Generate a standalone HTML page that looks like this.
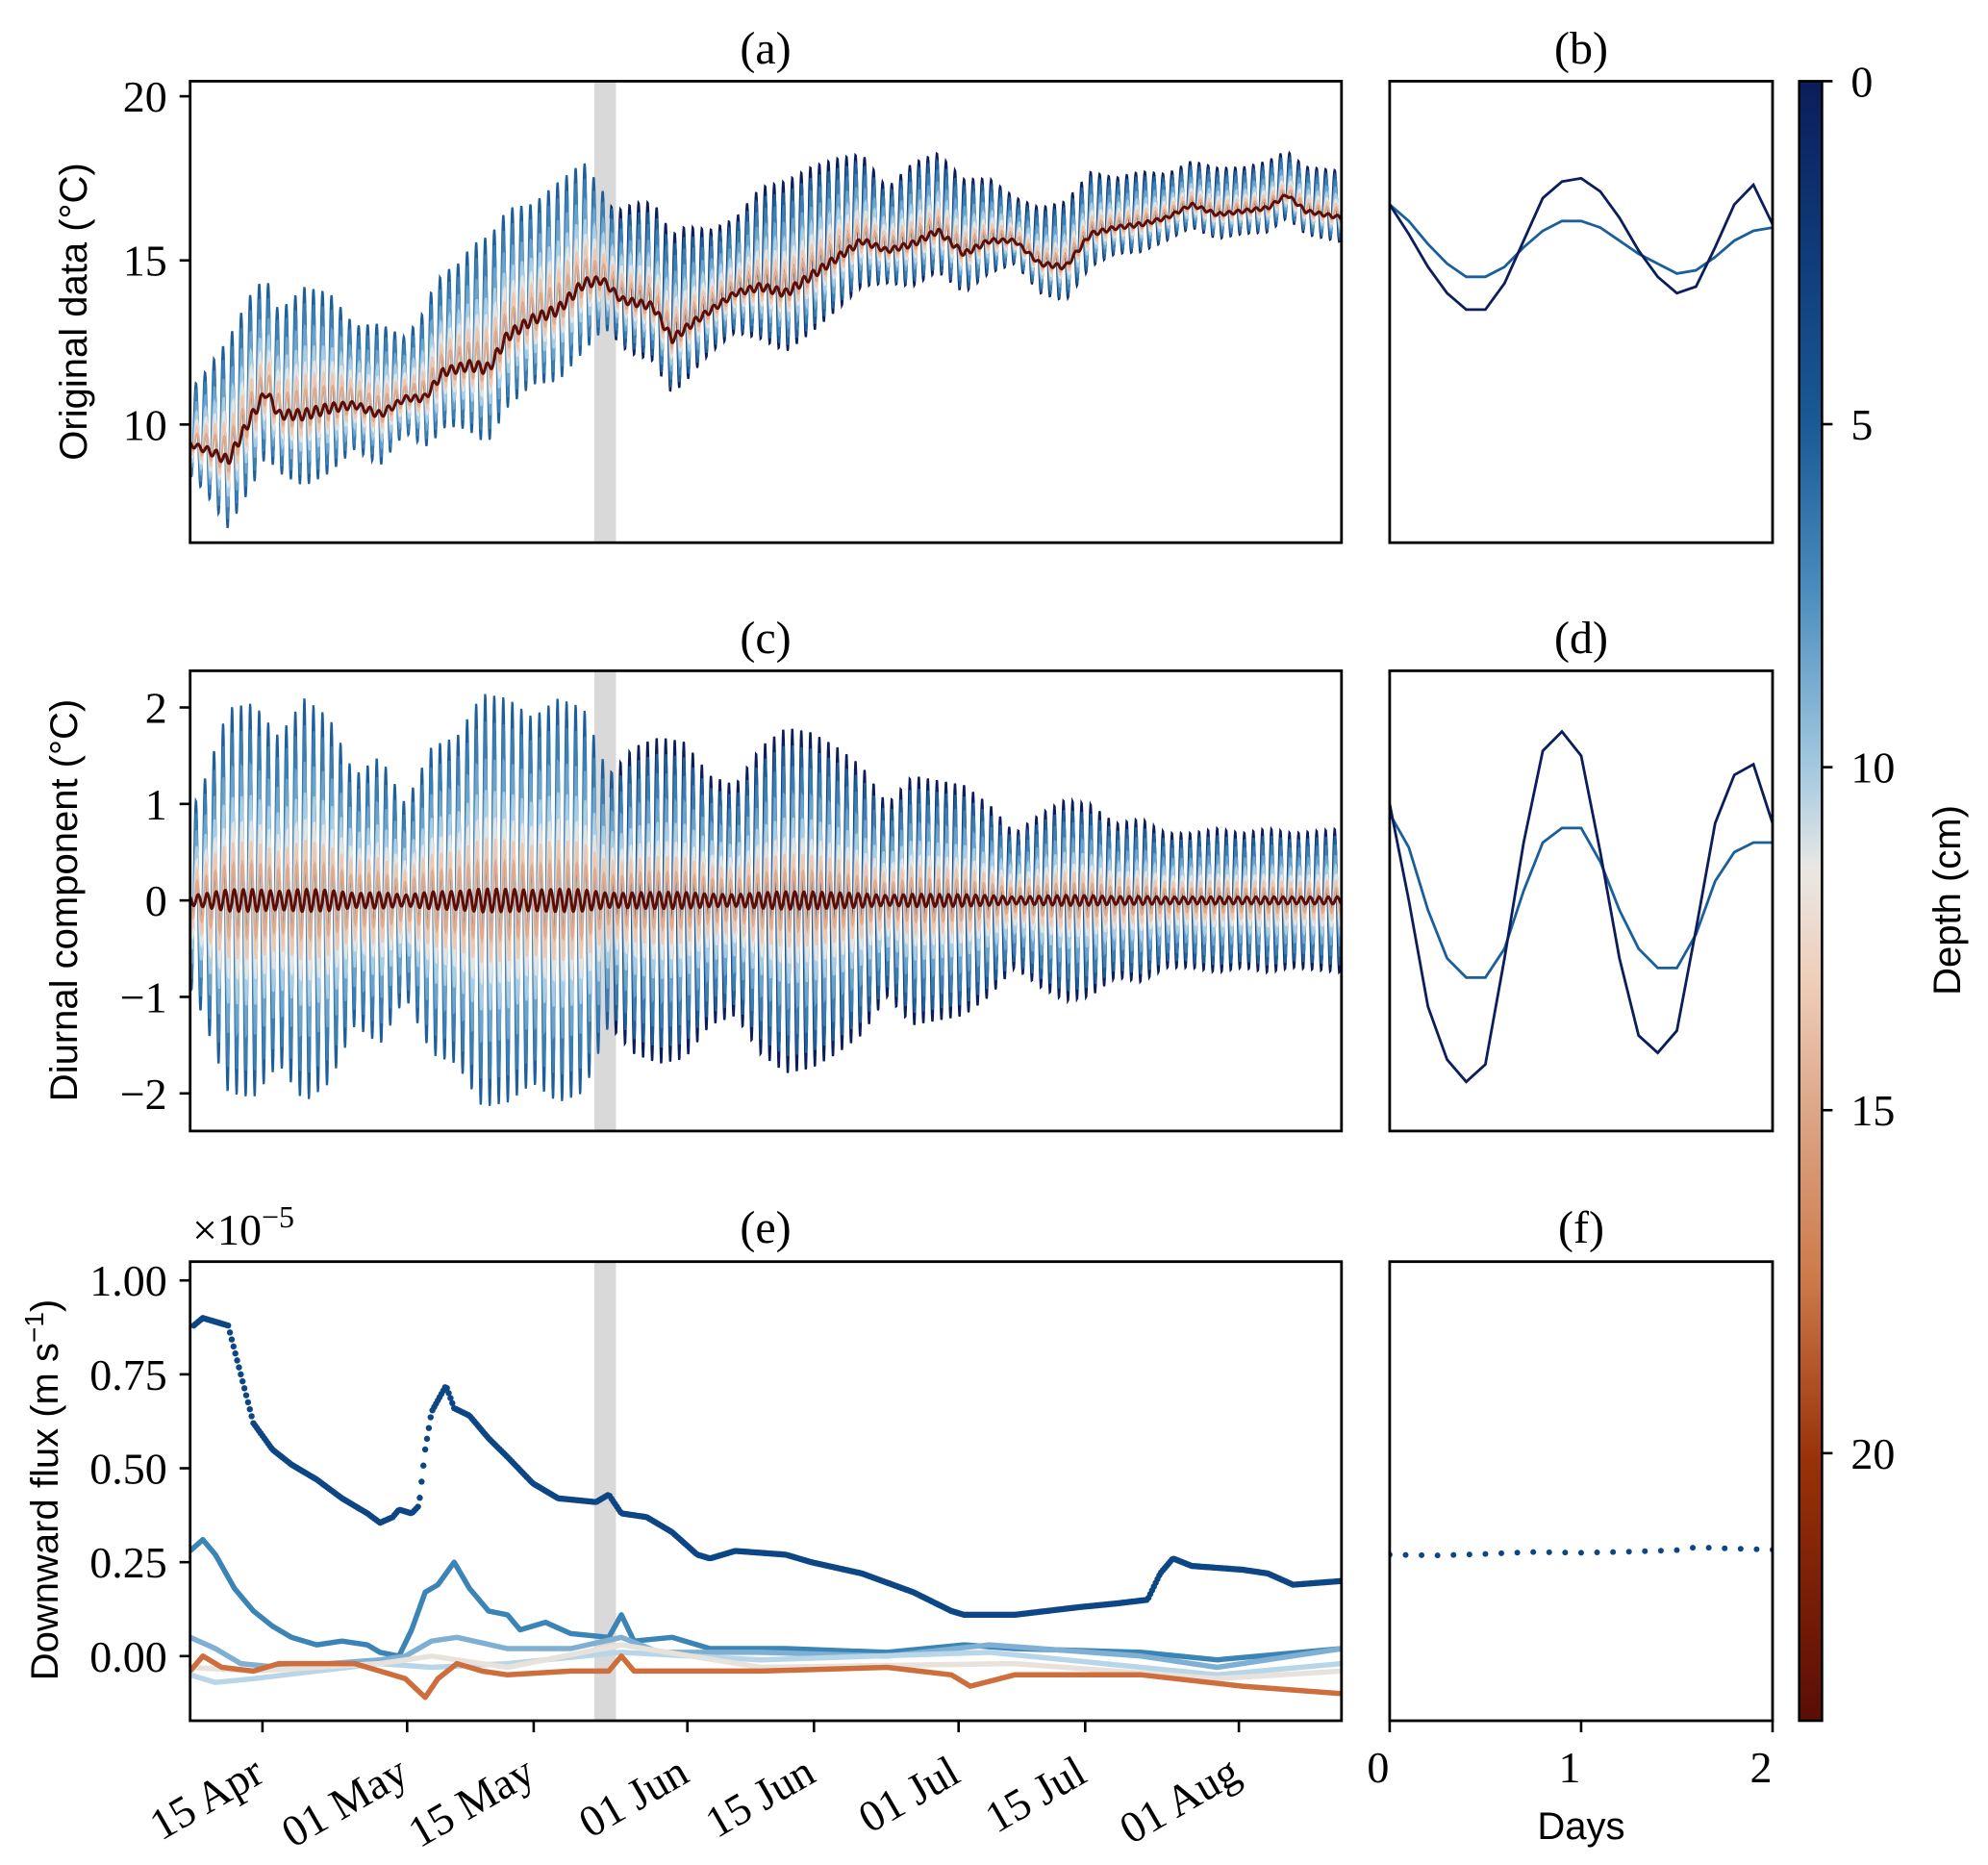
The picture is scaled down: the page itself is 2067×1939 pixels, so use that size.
<!DOCTYPE html>
<html><head><meta charset="utf-8">
<style>
html,body{margin:0;padding:0;background:#fff;}
svg{display:block;}
.tk{font-family:"Liberation Serif",serif;font-size:46px;fill:#000;}
.lb{font-family:"Liberation Sans",sans-serif;font-size:40px;fill:#000;}
.tt{font-family:"Liberation Serif",serif;font-size:48px;fill:#000;}
</style></head>
<body>
<svg id="fig" width="2067" height="1939" viewBox="0 0 2067 1939" xmlns="http://www.w3.org/2000/svg">
<defs>
<linearGradient id="cbg" x1="0" y1="0" x2="0" y2="1">
<stop offset="0" stop-color="#0b1d5a"/>
<stop offset="0.10" stop-color="#0e3a78"/>
<stop offset="0.21" stop-color="#1a5a96"/>
<stop offset="0.31" stop-color="#4a8cbd"/>
<stop offset="0.42" stop-color="#a4c9e0"/>
<stop offset="0.48" stop-color="#e9e7e4"/>
<stop offset="0.55" stop-color="#efcdb8"/>
<stop offset="0.63" stop-color="#dca587"/>
<stop offset="0.73" stop-color="#cd7a4a"/>
<stop offset="0.84" stop-color="#9a3208"/>
<stop offset="1" stop-color="#5a0d05"/>
</linearGradient>
</defs>
<g id="root"></g>
</svg>
<script>
// ---- data (days relative to 15 Apr) ----
const dateTickDays=[0,16,30,47,61,77,91,108];
const dateTickLabels=["15 Apr","01 May","15 May","01 Jun","15 Jun","01 Jul","15 Jul","01 Aug"];
const shadeDays=[36.7,39.1];
// deep (24 cm) daily-mean temperature knots
const meanDays=[-8,-5.9,-3.8,-1.7,0.4,1.8,4.6,7.4,10.2,13,15.8,17.9,20,22.9,25,27.1,29.9,32.7,35.5,37.6,39.7,43.2,45.3,48.1,52.3,55.1,57.9,62.1,66.3,69.1,71.9,74.7,77.6,80.4,83.2,86,88.8,91.6,94.4,97.2,100,102.8,105.6,108.4,111.2,113.3,115.4,119.4];
const meanTemp=[9.4,9.2,8.9,10,11,10.3,10.3,10.5,10.6,10.3,10.8,10.8,11.6,11.8,11.7,12.7,13.2,13.5,14.3,14.4,13.8,13.6,12.6,13.2,14.0,14.2,14.0,14.8,15.6,15.3,15.5,15.9,15.2,15.6,15.6,14.9,14.8,15.8,16.0,16.1,16.3,16.7,16.4,16.5,16.6,17.0,16.5,16.3];
// surface diurnal amplitude knots
const ampDays=[-8,-6.6,-3.8,-1,1.8,4.6,7.4,10.2,13,15.8,18.7,21.5,24.3,27.1,29.9,32.7,35.5,38.3,41.1,43.9,46.7,49.5,52.3,55.1,57.9,60.7,63.5,66.3,69.1,71.9,74.7,77.6,80.4,83.2,86,88.8,91.6,94.4,97.2,100,102.8,105.6,108.4,111.2,114,119.4];
const ampVals=[0.9,1.2,2.0,2.05,1.7,2.1,1.9,1.3,1.5,1.0,1.6,1.7,2.15,2.1,1.9,2.1,2.0,1.3,1.6,1.7,1.65,1.3,1.2,1.6,1.8,1.75,1.6,1.4,1.0,1.3,1.25,1.2,1.0,0.7,0.9,1.05,1.0,0.8,0.85,0.7,0.7,0.75,0.7,0.75,0.7,0.75];
// depth series
const depths=[0,3,5,7,9,11,13,15,24];
const depthColors=["#0b1d5a","#1d5f9c","#3a7fb4","#6aa3cb","#a9cde3","#e3e4e4","#efc8b2","#e0aa8c","#5c0e06"];
const ampFactors=[1.0,0.9,0.78,0.62,0.48,0.36,0.27,0.17,0.05];
const meanOffsets=[1.0,0.9,0.8,0.65,0.5,0.4,0.3,0.2,0];
// panel (b) and (d): two-day composites
const compDays=[0,0.1,0.2,0.3,0.4,0.5,0.6,0.7,0.8,0.9,1.0,1.1,1.2,1.3,1.4,1.5,1.6,1.7,1.8,1.9,2.0];
const bNavy=[16.7,15.8,14.8,14.0,13.5,13.5,14.3,15.6,16.9,17.4,17.5,17.1,16.3,15.3,14.5,14.0,14.2,15.4,16.7,17.3,16.1];
const bBlue=[16.7,16.2,15.5,14.9,14.5,14.5,14.8,15.4,15.9,16.2,16.2,16.0,15.6,15.2,14.9,14.6,14.7,15.1,15.6,15.9,16.0];
const dNavy=[1.0,0.0,-1.1,-1.65,-1.88,-1.7,-0.6,0.6,1.55,1.75,1.5,0.5,-0.6,-1.4,-1.58,-1.35,-0.3,0.8,1.3,1.41,0.8];
const dBlue=[0.9,0.55,-0.1,-0.6,-0.8,-0.8,-0.5,0.1,0.6,0.75,0.75,0.4,-0.1,-0.5,-0.7,-0.7,-0.35,0.2,0.5,0.6,0.6];
// panel (f)
const fDays=[0,0.25,0.5,0.75,1.0,1.25,1.5,1.6,1.75,2.0];
const fVals=[0.27,0.268,0.272,0.277,0.275,0.278,0.282,0.29,0.287,0.283];
// panel (e) flux series (x1e-5 m/s)
const fluxNavyDays=[-7.6,-6.6,-3.8,-2.4,-1,1.1,3.2,6,8.8,11.6,13,14.4,15.1,16.5,17.3,18,18.7,20.3,21.2,22.9,25,27.1,29.9,32.7,36.9,38.3,39.7,42.5,45.3,48.1,49.5,52.3,57.9,60.7,66.3,72,76.2,77.6,83.2,90.2,94.4,97.9,99.3,100.7,102.8,108.4,111.2,114,119.4];
const fluxNavy=[0.88,0.9,0.88,0.75,0.62,0.55,0.51,0.47,0.42,0.38,0.355,0.37,0.39,0.38,0.40,0.55,0.65,0.72,0.66,0.64,0.58,0.53,0.46,0.42,0.41,0.43,0.38,0.37,0.33,0.27,0.26,0.28,0.27,0.25,0.22,0.17,0.12,0.11,0.11,0.13,0.14,0.15,0.22,0.26,0.24,0.23,0.22,0.19,0.20];
const flux2Days=[-8,-6.6,-5.2,-3.1,-1,1.1,3.2,6,8.8,11.6,13,15.1,16.5,18,19.4,21.2,22.9,25,27.1,28.5,31.3,34.1,38.3,39.7,41.1,45.3,49.5,57.9,69.1,77.6,83.2,97.2,105.6,119.4];
const flux2=[0.28,0.31,0.27,0.18,0.12,0.08,0.05,0.03,0.04,0.03,0.01,0.0,0.07,0.17,0.19,0.25,0.18,0.12,0.11,0.07,0.09,0.06,0.05,0.11,0.04,0.05,0.02,0.02,0.01,0.03,0.02,0.01,-0.01,0.02];
const flux3Days=[-8,-5.2,-2.4,1.8,13,15.8,18.7,21.5,27.1,34.1,39.7,43.9,55.1,69.1,80.4,97.2,105.6,119.4];
const flux3=[0.05,0.02,-0.02,-0.03,-0.01,0.0,0.04,0.05,0.02,0.02,0.05,0.01,0.01,0.0,0.03,0.0,-0.03,0.02];
const flux4Days=[-8,-5.2,-1,13,18.7,27.1,39.7,55.1,80.4,105.6,119.4];
const flux4=[-0.05,-0.07,-0.06,-0.02,-0.03,-0.02,0.01,-0.01,0.01,-0.05,-0.02];
const flux5Days=[-8,-1,13,18.7,27.1,39.7,55.1,83.2,105.6,119.4];
const flux5=[-0.03,-0.04,-0.02,0.0,-0.03,0.03,-0.03,-0.02,-0.06,-0.04];
const flux6Days=[-8,-6.6,-4.5,-1,1.8,10.2,13,15.8,18,19.4,21.5,24.3,27.1,34.1,38.3,39.7,41.1,55.1,69.1,76.2,78.3,83.2,97.2,108.4,119.4];
const flux6=[-0.04,0.0,-0.03,-0.04,-0.02,-0.02,-0.04,-0.06,-0.11,-0.06,-0.02,-0.04,-0.05,-0.04,-0.04,0.0,-0.04,-0.04,-0.03,-0.05,-0.08,-0.05,-0.05,-0.08,-0.10];

// ---- layout ----
const NS="http://www.w3.org/2000/svg";
const root=document.getElementById('root');
const L=197.7,R=1394.8,RL=1444.9,RR=1843.0;
const P={a:[84.4,564.2],c:[697.4,1175.9],e:[1311.7,1789.0]};
const DMIN=-8,DMAX=119.35;
const xDate=d=>L+(d-DMIN)/(DMAX-DMIN)*(R-L);
const xComp=d=>RL+d/2*(RR-RL);
const yA=v=>P.a[0]+(20.46-v)/(20.46-6.4)*(P.a[1]-P.a[0]);
const yC=v=>P.c[0]+(2.38-v)/(2.38+2.39)*(P.c[1]-P.c[0]);
const yE=v=>P.e[0]+(1.05-v)/(1.05+0.172)*(P.e[1]-P.e[0]);
function el(tag,attrs,parent){const e=document.createElementNS(NS,tag);for(const k in attrs)e.setAttribute(k,attrs[k]);(parent||root).appendChild(e);return e;}
function interp(xs,ys,x){if(x<=xs[0])return ys[0];for(let i=1;i<xs.length;i++){if(x<=xs[i]){const t=(x-xs[i-1])/(xs[i]-xs[i-1]);return ys[i-1]+t*(ys[i]-ys[i-1]);}}return ys[ys.length-1];}
function clip(id,x0,y0,x1,y1){const c=el('clipPath',{id:id});el('rect',{x:x0,y:y0,width:x1-x0,height:y1-y0},c);}
clip('cl',L,P.a[0],R,P.a[1]);clip('cc',L,P.c[0],R,P.c[1]);clip('ce',L,P.e[0],R,P.e[1]);
clip('cb',RL,P.a[0],RR,P.a[1]);clip('cd',RL,P.c[0],RR,P.c[1]);clip('cf',RL,P.e[0],RR,P.e[1]);

// shaded bands
['a','c','e'].forEach(k=>{
  const r=el('rect',{x:xDate(shadeDays[0]),y:P[k][0],width:xDate(shadeDays[1])-xDate(shadeDays[0]),height:P[k][1]-P[k][0],fill:'#d9d9d9'});
  
  
});

// panels (a) and (c): depth series
const gA=el('g',{'clip-path':'url(#cl)'});
const gC=el('g',{'clip-path':'url(#cc)'});
depths.forEach((z,i)=>{
  let pa='',pc='';
  const start=(i===0)?38.5:DMIN;
  for(let t=start;t<=DMAX+0.01;t+=1/24){
    const m=interp(meanDays,meanTemp,t);
    let f=ampFactors[i];
    if(t<39&&i>0)f=Math.min(1,f/0.9);
    const amp=interp(ampDays,ampVals,t);
    const a=amp*f;
    const ph=2*Math.PI*(t-0.35-z*0.012);
    const d=a*Math.sin(ph);
    const va=m+meanOffsets[i]*0.45*amp+1.45*d;
    pa+=(pa?'L':'M')+xDate(t).toFixed(1)+' '+yA(va).toFixed(1);
    pc+=(pc?'L':'M')+xDate(t).toFixed(1)+' '+yC(d).toFixed(1);
  }
  const w=i===8?3:2.2;
  const s1=el('path',{d:pa,fill:'none',stroke:depthColors[i],'stroke-width':w},gA);
  
  
  const s2=el('path',{d:pc,fill:'none',stroke:depthColors[i],'stroke-width':w},gC);
  
  
});

// panel (e)
const gE=el('g',{'clip-path':'url(#ce)'});
for(let t=fluxNavyDays[0];t<=DMAX;t+=0.2){
  const c=el('circle',{cx:xDate(t),cy:yE(interp(fluxNavyDays,fluxNavy,t)),r:3.2,fill:'#0d4685'},gE);
  
  
}
const fluxSets=[[flux2Days,flux2,'#3b84b6'],[flux3Days,flux3,'#7fb0d4'],[flux4Days,flux4,'#b9d6e8'],[flux5Days,flux5,'#e8e2dc'],[flux6Days,flux6,'#cd6e3c']];
fluxSets.forEach((s,i)=>{
  let p='';
  s[0].forEach((d,j)=>{p+=(j?'L':'M')+xDate(d).toFixed(1)+' '+yE(s[1][j]).toFixed(1);});
  const ln=el('path',{d:p,fill:'none',stroke:s[2],'stroke-width':5.5,'stroke-linejoin':'round'},gE);
  
  
});

// panels (b),(d),(f)
function compLine(ys,yf,col,clipid,name){
  let p='';compDays.forEach((d,j)=>{p+=(j?'L':'M')+xComp(d).toFixed(1)+' '+yf(ys[j]).toFixed(1);});
  const g=el('path',{d:p,fill:'none',stroke:col,'stroke-width':2.8,'clip-path':'url(#'+clipid+')'});
  
  
}
compLine(bBlue,yA,'#1a5f9c','cb','composite-b-subsurface');
compLine(bNavy,yA,'#0b1d5a','cb','composite-b-surface');
compLine(dBlue,yC,'#1a5f9c','cd','composite-d-subsurface');
compLine(dNavy,yC,'#0b1d5a','cd','composite-d-surface');
for(let k=0;k<=24;k++){
  const t=k/12;
  const c=el('circle',{cx:xComp(t),cy:yE(interp(fDays,fVals,t)),r:3,fill:'#0d4685','clip-path':'url(#cf)'});
  
  
}

// frames
[['a',L,R],['c',L,R],['e',L,R],['a',RL,RR],['c',RL,RR],['e',RL,RR]].forEach((f,i)=>{
  const r=el('rect',{x:f[1],y:P[f[0]][0],width:f[2]-f[1],height:P[f[0]][1]-P[f[0]][0],fill:'none',stroke:'#000','stroke-width':2.8});
  
  
});

// y ticks
function yTicks(vals,labels,yf,name){
  vals.forEach((v,i)=>{
    const y=yf(v);
    el('line',{x1:L-11,y1:y,x2:L,y2:y,stroke:'#000','stroke-width':2.6});
    const t=el('text',{x:L-24,y:y+16,'text-anchor':'end',class:'tk'});t.textContent=labels[i];
    
    
  });
}
yTicks([10,15,20],["10","15","20"],yA,'a-y');
yTicks([-2,-1,0,1,2],["\u22122","\u22121","0","1","2"],yC,'c-y');
yTicks([0,0.25,0.5,0.75,1.0],["0.00","0.25","0.50","0.75","1.00"],yE,'e-y');

// x ticks (dates)
dateTickDays.forEach((d,i)=>{
  const x=xDate(d);
  el('line',{x1:x,y1:P.e[1],x2:x,y2:P.e[1]+12,stroke:'#000','stroke-width':2.6});
  const t=el('text',{x:0,y:0,'text-anchor':'end',class:'tk',transform:'translate('+(x+4)+','+(P.e[1]+62)+') rotate(-30)'});
  t.textContent=dateTickLabels[i];
  
  
});
[0,1,2].forEach(d=>{
  const x=xComp(d);
  el('line',{x1:x,y1:P.e[1],x2:x,y2:P.e[1]+12,stroke:'#000','stroke-width':2.6});
  const t=el('text',{x:x-12,y:P.e[1]+64,'text-anchor':'middle',class:'tk'});t.textContent=String(d);
  
  
});

// titles and labels
function txt(x,y,s,cls,name,extra){const t=el('text',Object.assign({x:x,y:y,'text-anchor':'middle',class:cls},extra||{}));t.textContent=s;return t;}
txt(796,66,'(a)','tt','title-a');txt(1644,66,'(b)','tt','title-b');
txt(796,679,'(c)','tt','title-c');txt(1644,679,'(d)','tt','title-d');
txt(796,1292,'(e)','tt','title-e');txt(1644,1292,'(f)','tt','title-f');
txt(1644,1912,'Days','lb','x-axis-title-days');
txt(0,0,'Original data (\u00b0C)','lb','y-axis-title-original',{transform:'translate(90,324) rotate(-90)'});
txt(0,0,'Diurnal component (\u00b0C)','lb','y-axis-title-diurnal',{transform:'translate(80,936) rotate(-90)'});
const fl=txt(0,0,'','lb','y-axis-title-flux',{transform:'translate(60,1549) rotate(-90)'});
fl.innerHTML='Downward flux (m s<tspan dy="-15" font-size="28">\u22121</tspan><tspan dy="15">)</tspan>';
const mul=el('text',{x:200,y:1294,class:'tk'});mul.innerHTML='\u00d710<tspan dy="-18" font-size="32">\u22125</tspan>';



// colorbar
const CB={x0:1870.7,x1:1894.4,y0:84.4,y1:1789};
const cbr=el('rect',{x:CB.x0,y:CB.y0,width:CB.x1-CB.x0,height:CB.y1-CB.y0,fill:'url(#cbg)',stroke:'#000','stroke-width':2.6});


const cbTicks=[0,5,10,15,20];
cbTicks.forEach(v=>{
  const y=CB.y0+v/23.9*(CB.y1-CB.y0);
  el('line',{x1:CB.x1,y1:y,x2:CB.x1+11,y2:y,stroke:'#000','stroke-width':2.6});
  const t=el('text',{x:CB.x1+30,y:y+16,class:'tk'});t.textContent=String(v);
  
  
});
txt(0,0,'Depth (cm)','lb','colorbar-title',{transform:'translate(2038,936) rotate(-90)'});
</script>
</body></html>
